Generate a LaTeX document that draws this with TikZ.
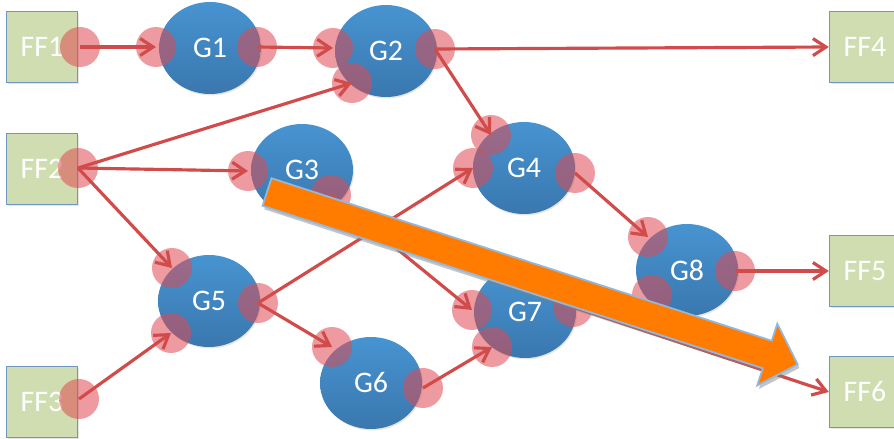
\documentclass[tikz,border=0pt]{standalone}
\usepackage{fontspec}
\setmainfont{Carlito}
\usetikzlibrary{shapes.geometric,arrows.meta,shadows}

\definecolor{ffgreen}{HTML}{CFDDB1}
\definecolor{ffedge}{HTML}{7096C2}
\definecolor{gtop}{HTML}{4794D1}
\definecolor{gbot}{HTML}{3A77AE}
\definecolor{wirered}{HTML}{D24B4B}
\definecolor{portred}{HTML}{DF4A52}
\definecolor{bigorange}{HTML}{FF7C00}
\definecolor{bigedge}{HTML}{93B8DE}

\tikzset{
	ff/.style={rectangle,draw=ffedge,line width=0.8pt,fill=ffgreen,
		minimum size=1.42cm,inner sep=0pt,text=white,
		font=\fontsize{17}{19}\selectfont,
		drop shadow={opacity=0.2,shadow xshift=0.6pt,shadow yshift=-0.8pt}},
	gate/.style={ellipse,minimum width=2.04cm,minimum height=1.84cm,
		top color=gtop,bottom color=gbot,text=white,
		font=\fontsize{17}{19}\selectfont,
		drop shadow={opacity=0.2,shadow xshift=0.6pt,shadow yshift=-0.8pt}},
	port/.style={circle,fill=portred,fill opacity=0.55,
		minimum size=0.8cm,inner sep=0pt},
	wire/.style={draw=wirered,line width=1.8pt,
		-{Straight Barb[length=2.6mm,width=3.4mm]}},
	bigarrow/.style={fill=bigorange,draw=bigedge,line width=1pt,line join=miter,
		drop shadow={opacity=0.45,shadow xshift=1pt,shadow yshift=-2pt}}
}

\begin{document}
\begin{tikzpicture}[x=0.02cm,y=-0.02cm]
\useasboundingbox (0,0) rectangle (894,439);
\clip (0,0) rectangle (894,439);
\fill[white] (0,0) rectangle (894,439);
%flip-flops
\node[ff] (FF1) at (42,47) {FF1};
\node[ff] (FF2) at (42,169) {FF2};
\node[ff] (FF3) at (42,402) {FF3};
\node[ff] (FF4) at (865,47) {FF4};
\node[ff] (FF5) at (865,271) {FF5};
\node[ff] (FF6) at (865,392) {FF6};
%gates
\node[gate] (G1) at (210,48) {G1};
\node[gate] (G2) at (386,51) {G2};
\node[gate] (G3) at (302,170) {G3};
\node[gate] (G4) at (524,168) {G4};
\node[gate] (G5) at (209,301) {G5};
\node[gate] (G6) at (371,383) {G6};
\node[gate] (G7) at (525,312) {G7};
\node[gate] (G8) at (687,270) {G8};
%pins
\node[port] (ff1o) at (80,47) {};
\node[port] (ff2o) at (78,168) {};
\node[port] (ff3o) at (79,399) {};
\node[port] (g1i) at (156,47) {};
\node[port] (g1o) at (257,47) {};
\node[port] (g2i) at (333,48) {};
\node[port] (g2j) at (352,83) {};
\node[port] (g2o) at (435,49) {};
\node[port] (g3i) at (248,171) {};
\node[port] (g3o) at (331,195) {};
\node[port] (g4i) at (491,135) {};
\node[port] (g4j) at (473,168) {};
\node[port] (g4o) at (575,173) {};
\node[port] (g5i) at (172,268) {};
\node[port] (g5j) at (171,333) {};
\node[port] (g5o) at (258,303) {};
\node[port] (g6i) at (332,347) {};
\node[port] (g6o) at (423,388) {};
\node[port] (g7i) at (472,310) {};
\node[port] (g7j) at (492,347) {};
\node[port] (g7o) at (573,307) {};
\node[port] (g8i) at (648,237) {};
\node[port] (g8j) at (652,295) {};
\node[port] (g8o) at (735,271) {};
%wires
\draw[wire] (ff1o.center)--(g1i.center);
\draw[wire] (g1o.center)--(g2i.center);
\draw[wire] (ff2o.center)--(g2j.center);
\draw[wire] (ff2o.center)--(g3i.center);
\draw[wire] (ff2o.center)--(g5i.center);
\draw[wire] (g2o.center)--(FF4.west);
\draw[wire] (g2o.center)--(g4i.center);
\draw[wire] (g3o.center)--(g7i.center);
\draw[wire] (g5o.center)--(g4j.center);
\draw[wire] (g5o.center)--(g6i.center);
\draw[wire] (ff3o.center)--(g5j.center);
\draw[wire] (g6o.center)--(g7j.center);
\draw[wire] (g4o.center)--(g8i.center);
\draw[wire] (g8o.center)--(FF5.west);
\draw[wire] (g7o.center)--(FF6.west);
%big arrow
\begin{scope}[shift={(267,192)},rotate=-18]
\draw[bigarrow] (0,-14.5)--(526,-14.5)--(526,-32.5)--(558,0)
	--(526,32.5)--(526,14.5)--(0,14.5)--cycle;
\end{scope}
\end{tikzpicture}
\end{document}
